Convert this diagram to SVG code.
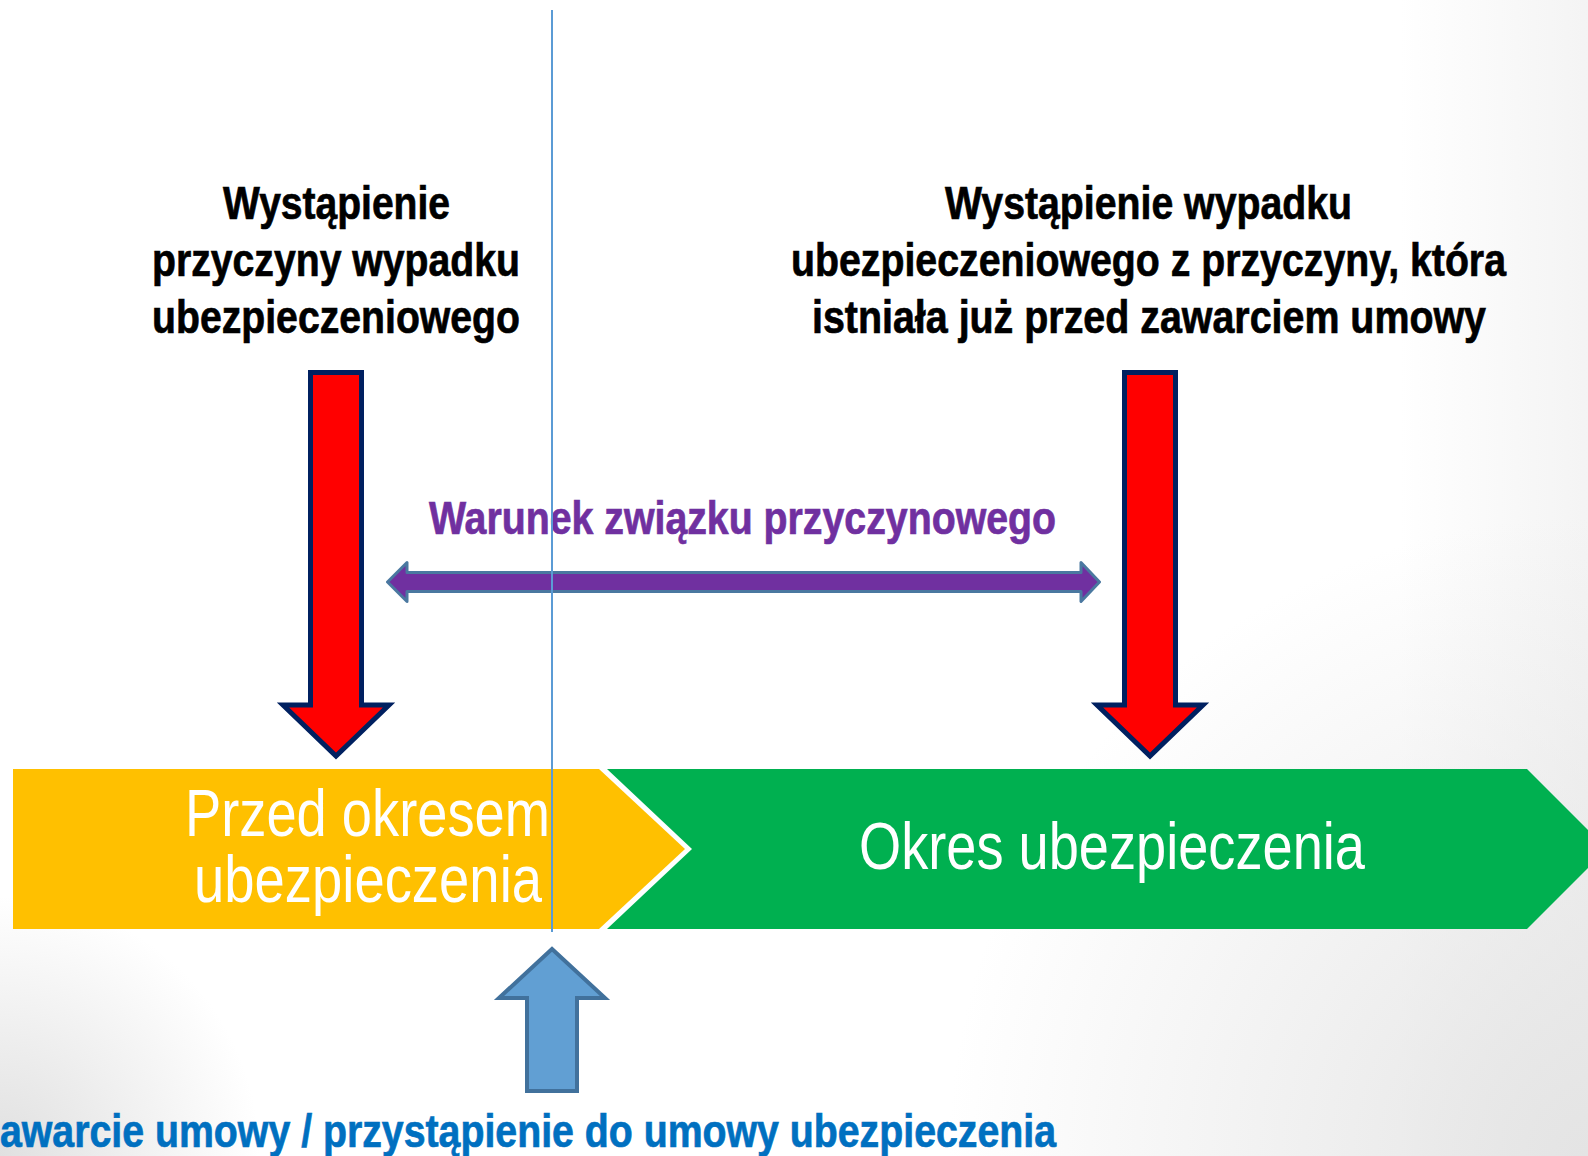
<svg xmlns="http://www.w3.org/2000/svg" width="1588" height="1156" viewBox="0 0 1588 1156">
<defs>
<radialGradient id="bgBR" gradientUnits="userSpaceOnUse" cx="1588" cy="1156" r="640">
<stop offset="0" stop-color="#e4e4e4" stop-opacity="1"/>
<stop offset="1" stop-color="#e4e4e4" stop-opacity="0"/>
</radialGradient>
<radialGradient id="bgBL" gradientUnits="userSpaceOnUse" cx="0" cy="1156" r="260">
<stop offset="0" stop-color="#e0e0e0" stop-opacity="1"/>
<stop offset="1" stop-color="#e0e0e0" stop-opacity="0"/>
</radialGradient>
<linearGradient id="bgR" gradientUnits="userSpaceOnUse" x1="1400" y1="0" x2="1588" y2="0">
<stop offset="0" stop-color="#e6e6e6" stop-opacity="0"/>
<stop offset="1" stop-color="#e6e6e6" stop-opacity="0.45"/>
</linearGradient>
<style>
.hd{font-family:"Liberation Sans",Arial,sans-serif;font-weight:bold;font-size:46px;fill:#000;stroke:#000;stroke-width:0.7px}
.ch{font-family:"Liberation Sans",Arial,sans-serif;font-size:66px;fill:#fff}
.red{fill:#FF0000;stroke:#002060;stroke-width:5;stroke-linejoin:miter}
</style>
</defs>
<rect width="1588" height="1156" fill="#ffffff"/>
<rect width="1588" height="1156" fill="url(#bgR)"/>
<rect width="1588" height="1156" fill="url(#bgBR)"/>
<rect width="1588" height="1156" fill="url(#bgBL)"/>

<g id="phase-before">
<polygon points="13,769 599,769 685,849 599,929 13,929" fill="#FFC000"/>
<text class="ch" x="185" y="836" textLength="365" lengthAdjust="spacingAndGlyphs">Przed okresem</text>
<text class="ch" x="194" y="902" textLength="348" lengthAdjust="spacingAndGlyphs">ubezpieczenia</text>
</g>

<g id="phase-coverage">
<polygon points="607,769 1527,769 1607,849 1527,929 607,929 692,849" fill="#00B050"/>
<text class="ch" x="859" y="869" textLength="506" lengthAdjust="spacingAndGlyphs">Okres ubezpieczenia</text>
</g>

<g id="label-cause">
<text class="hd" x="223" y="219" textLength="227" lengthAdjust="spacingAndGlyphs">Wystąpienie</text>
<text class="hd" x="152" y="276" textLength="368" lengthAdjust="spacingAndGlyphs">przyczyny wypadku</text>
<text class="hd" x="152" y="333" textLength="368" lengthAdjust="spacingAndGlyphs">ubezpieczeniowego</text>
</g>

<g id="label-event">
<text class="hd" x="945" y="219" textLength="407" lengthAdjust="spacingAndGlyphs">Wystąpienie wypadku</text>
<text class="hd" x="791" y="276" textLength="715" lengthAdjust="spacingAndGlyphs">ubezpieczeniowego z przyczyny, która</text>
<text class="hd" x="812" y="333" textLength="674" lengthAdjust="spacingAndGlyphs">istniała już przed zawarciem umowy</text>
</g>

<g id="label-causal">
<text x="429" y="534" textLength="627" lengthAdjust="spacingAndGlyphs" font-family="Liberation Sans, Arial, sans-serif" font-weight="bold" font-size="46" fill="#7030A0" stroke="#7030A0" stroke-width="0.7">Warunek związku przyczynowego</text>
</g>

<g id="label-contract">
<text x="0" y="1147" textLength="1056" lengthAdjust="spacingAndGlyphs" font-family="Liberation Sans, Arial, sans-serif" font-weight="bold" font-size="46" fill="#0070C0" stroke="#0070C0" stroke-width="0.7">awarcie umowy / przystąpienie do umowy ubezpieczenia</text>
</g>

<g id="connectors">
<polygon class="red" points="310.5,372.5 361.5,372.5 361.5,705 389,705 336,756 283,705 310.5,705"/>
<polygon class="red" points="1124.5,372.5 1175.5,372.5 1175.5,705 1203,705 1150,756 1097,705 1124.5,705"/>
<polygon points="387.5,582 407,562.5 407,572.5 1081,572.5 1081,562.5 1099.5,582 1081,601.5 1081,591.5 407,591.5 407,601.5" fill="#7030A0" stroke="#4A78A0" stroke-width="3" stroke-linejoin="round"/>
<line x1="552" y1="10" x2="552" y2="932" stroke="#5B9BD5" stroke-width="2"/>
<polygon points="552,949 605,998 577,998 577,1091 527,1091 527,998 499,998" fill="#619FD3" stroke="#41719C" stroke-width="4"/>
</g>
</svg>
